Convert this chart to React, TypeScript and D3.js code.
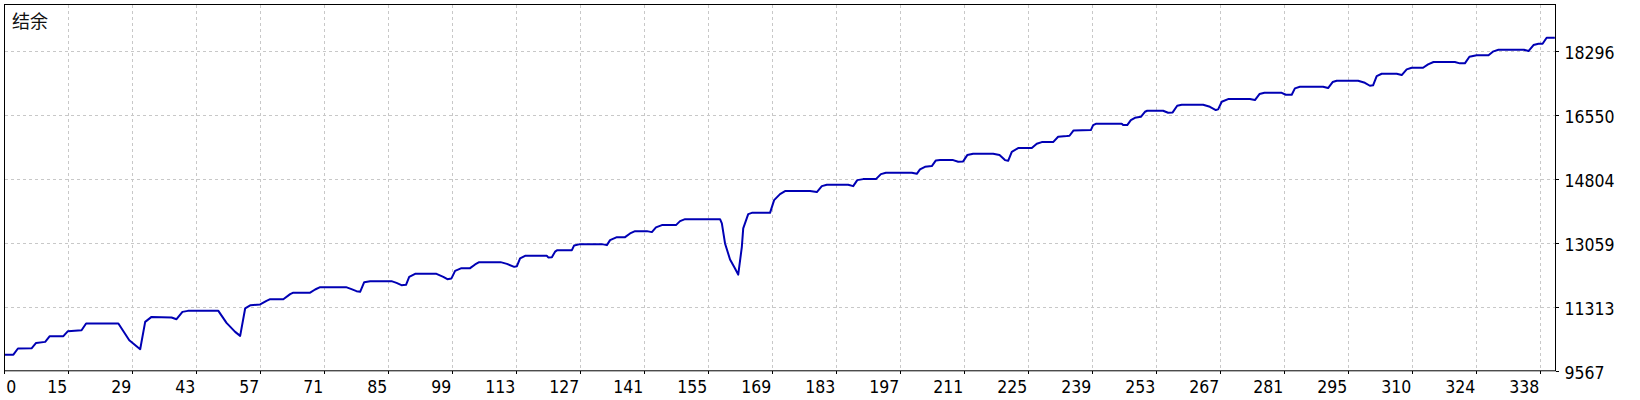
import React, { useEffect, useRef } from "react";
import * as d3 from "d3";

// trade number -> balance, vertices
const tradeIdx = [
  0, 2, 3, 6, 7, 9, 10, 13, 14, 17,
  18, 25.1, 27.5, 29.9, 31, 32.4, 36.8, 37.9, 39.2, 40.4,
  47.1, 48.9, 50.8, 51.9, 53, 54.2, 56.3, 57.7, 58.5, 61.4,
  62.9, 63.6, 67.3, 68.4, 69.5, 75.2, 76.4, 77.5, 78.3, 79.2,
  80.5, 85.2, 86.3, 87.4, 88.4, 89.1, 90.4, 95.1, 96.6, 97.5,
  98.4, 99.2, 100.6, 102.5, 103.6, 104.5, 109.2, 110.6, 112.2, 112.8,
  113.5, 114.6, 119.4, 119.7, 120.5, 121.2, 121.7, 124.9, 125.4, 126.7,
  131.5, 132.6, 133.3, 134.8, 136.6, 137.7, 138.8, 141.4, 142.5, 143.4,
  144.7, 147.8, 148.7, 149.8, 157.5, 157.9, 158.6, 159.7, 160.8, 161.5,
  162.3, 162.6, 163.7, 164.5, 168.5, 169.4, 170.7, 171.8, 177.3, 178.8,
  179.9, 181, 185.7, 186.8, 187.7, 189, 191.8, 192.9, 194, 199.7,
  200.8, 201.5, 202.6, 204.1, 205, 205.9, 208.8, 209.9, 211, 211.9,
  213.2, 217.6, 219, 220.2, 220.9, 221.7, 223.1, 226.1, 227.2, 228.3,
  230.8, 231.9, 233.8, 234.4, 235.3, 239.1, 239.6, 240.2, 245.9, 246.2,
  247.1, 247.9, 248.8, 250.1, 251, 251.5, 255, 256.1, 257.1, 258.1,
  259.1, 263.8, 265.3, 266.6, 267.1, 267.9, 269.3, 274.1, 275.2, 276.2,
  277.3, 281.1, 282, 283.3, 284, 285.1, 290.2, 291.3, 292.3, 293.2,
  297.9, 299.4, 300.5, 301.2, 302, 303.1, 306.4, 307.5, 308.6, 309.7,
  312.2, 313.3, 314.5, 319.2, 320.3, 321.4, 322.4, 324, 326.6, 327.7,
  328.8, 334.4, 335.4, 336.5, 337.6, 338.5, 339.4, 341.2,
];

const balance = [
  10000, 10000, 10168, 10172, 10320, 10348, 10503, 10503, 10640, 10667,
  10850, 10850, 10394, 10148, 10894, 11030, 11014, 10967, 11167, 11194,
  11194, 10866, 10621, 10512, 11260, 11350, 11369, 11467, 11513, 11513,
  11650, 11690, 11690, 11778, 11841, 11841, 11786, 11732, 11713, 11978,
  12005, 12005, 11958, 11896, 11904, 12122, 12204, 12204, 12122, 12059,
  12079, 12286, 12360, 12360, 12461, 12524, 12524, 12477, 12395, 12414,
  12625, 12696, 12696, 12652, 12660, 12810, 12851, 12851, 12980, 13015,
  13015, 12988, 13124, 13206, 13206, 13307, 13370, 13370, 13343, 13471,
  13534, 13534, 13643, 13697, 13697, 13580, 13034, 12597, 12352, 12182,
  12941, 13444, 13834, 13869, 13869, 14216, 14380, 14462, 14462, 14435,
  14598, 14634, 14634, 14598, 14762, 14789, 14789, 14926, 14961, 14961,
  14934, 15054, 15125, 15144, 15300, 15308, 15308, 15262, 15273, 15445,
  15480, 15480, 15445, 15308, 15289, 15535, 15636, 15636, 15753, 15800,
  15800, 15944, 15963, 15972, 16119, 16127, 16264, 16299, 16299, 16264,
  16264, 16400, 16463, 16490, 16627, 16654, 16654, 16599, 16610, 16791,
  16818, 16818, 16763, 16673, 16692, 16900, 16973, 16973, 16946, 17110,
  17145, 17145, 17091, 17091, 17266, 17309, 17309, 17273, 17438, 17473,
  17473, 17418, 17337, 17348, 17601, 17664, 17664, 17628, 17784, 17828,
  17828, 17921, 17984, 17984, 17948, 17948, 18128, 18167, 18167, 18276,
  18319, 18319, 18284, 18448, 18483, 18483, 18647, 18647,
];

const xTickLabels = [
  "0", "15", "29", "43", "57", "71", "85", "99", "113", "127", "141", "155",
  "169", "183", "197", "211", "225", "239", "253", "267", "281", "295",
  "310", "324", "338",
];
const yTicks = [9567, 11313, 13059, 14804, 16550, 18296];
const title = "结余";

const W = 1640;
const H = 400;
const frame = { left: 4.5, right: 1555.5, top: 4.5, bottom: 370.8 };
const font = "Tahoma, 'DejaVu Sans Condensed', 'DejaVu Sans', sans-serif";

const App: React.FC = () => {
  const svgRef = useRef<SVGSVGElement | null>(null);

  useEffect(() => {
    const svg = d3.select(svgRef.current);
    svg.selectAll("*").remove();

    const xScale = d3.scaleLinear().domain([0, 338]).range([4.3, 1540.3]);
    const yScale = d3.scaleLinear().domain([9567, 18296]).range([370.5, 50.6]);
    const tickStep = 338 / (xTickLabels.length - 1);

    svg.append("rect").attr("width", W).attr("height", H).attr("fill", "#fff");

    // grid
    const grid = svg
      .append("g")
      .attr("stroke", "#c8c8c8")
      .attr("stroke-width", 1)
      .attr("stroke-dasharray", "3,3")
      .attr("shape-rendering", "crispEdges");
    grid
      .selectAll("line.v")
      .data(xTickLabels.slice(1))
      .enter()
      .append("line")
      .attr("x1", (_, i) => Math.round(xScale((i + 1) * tickStep)) + 0.5)
      .attr("x2", (_, i) => Math.round(xScale((i + 1) * tickStep)) + 0.5)
      .attr("y1", frame.top)
      .attr("y2", frame.bottom);
    grid
      .selectAll("line.h")
      .data(yTicks.slice(1))
      .enter()
      .append("line")
      .attr("x1", frame.left)
      .attr("x2", frame.right)
      .attr("y1", (d) => Math.round(yScale(d)) + 0.5)
      .attr("y2", (d) => Math.round(yScale(d)) + 0.5);

    // balance line
    const line = d3
      .line<number>()
      .x((_, i) => xScale(tradeIdx[i]))
      .y((d) => yScale(d));
    svg
      .append("path")
      .datum(balance)
      .attr("d", line)
      .attr("fill", "none")
      .attr("stroke", "#0000b4")
      .attr("stroke-width", 2)
      .attr("stroke-linejoin", "round");

    // frame
    svg
      .append("rect")
      .attr("x", frame.left)
      .attr("y", frame.top)
      .attr("width", frame.right - frame.left)
      .attr("height", frame.bottom - frame.top)
      .attr("fill", "none")
      .attr("stroke", "#000")
      .attr("stroke-width", 1);

    // tick marks
    const ticks = svg.append("g").attr("stroke", "#000").attr("shape-rendering", "crispEdges");
    ticks
      .selectAll("line.xt")
      .data(xTickLabels)
      .enter()
      .append("line")
      .attr("x1", (_, i) => Math.round(xScale(i * tickStep)) + 0.5)
      .attr("x2", (_, i) => Math.round(xScale(i * tickStep)) + 0.5)
      .attr("y1", frame.bottom)
      .attr("y2", frame.bottom + 3);
    ticks
      .selectAll("line.yt")
      .data(yTicks)
      .enter()
      .append("line")
      .attr("x1", frame.right)
      .attr("x2", frame.right + 3)
      .attr("y1", (d) => Math.round(yScale(d)) + 0.5)
      .attr("y2", (d) => Math.round(yScale(d)) + 0.5);

    // x labels
    svg
      .append("g")
      .selectAll("text")
      .data(xTickLabels)
      .enter()
      .append("text")
      .attr("x", (_, i) => (i === 0 ? xScale(0) + 2 : xScale(i * tickStep) - 1))
      .attr("y", 393)
      .attr("text-anchor", (_, i) => (i === 0 ? "start" : "end"))
      .attr("font-family", font)
      .attr("font-size", 17.5)
      .attr("fill", "#000")
      .text((d) => d);

    // y labels
    svg
      .append("g")
      .selectAll("text")
      .data(yTicks)
      .enter()
      .append("text")
      .attr("x", 1564.5)
      .attr("y", (d) => yScale(d) + 8.7)
      .attr("font-family", font)
      .attr("font-size", 17.5)
      .attr("fill", "#000")
      .text((d) => d);

    svg
      .append("text")
      .attr("x", 12)
      .attr("y", 28)
      .attr("font-family", "'Noto Sans CJK SC', sans-serif")
      .attr("font-size", 18)
      .attr("fill", "#111")
      .text(title);
  }, []);

  return (
    <svg
      ref={svgRef}
      width={W}
      height={H}
      style={{ position: "absolute", left: 0, top: 0 }}
    ></svg>
  );
};

export default App;
